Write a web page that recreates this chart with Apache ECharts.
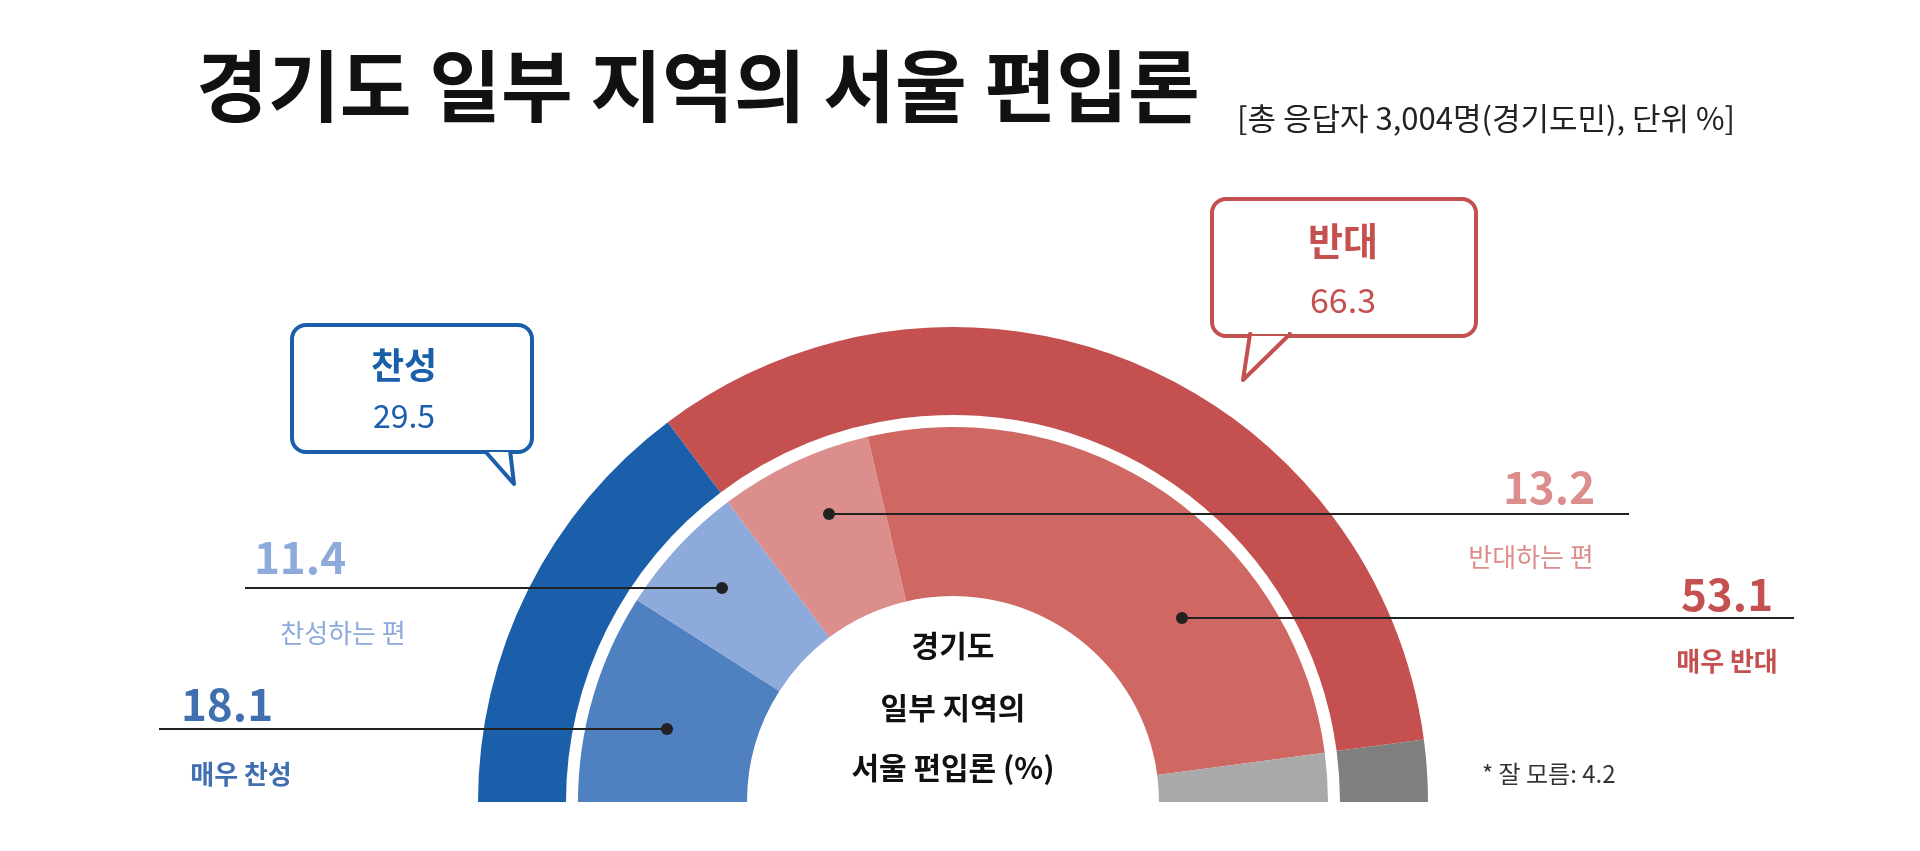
<!DOCTYPE html>
<html><head><meta charset="utf-8">
<script src="https://cdn.jsdelivr.net/npm/echarts@6/dist/echarts.min.js"></script>
<style>html,body{margin:0;background:#fff}#c{width:1920px;height:851px}</style></head>
<body><div id="c"></div>
<script>
const outerNames = ['찬성','반대','잘 모름'];
const outerValues = [29.5, 66.3, 4.2];
const innerNames = ['매우 찬성','찬성하는 편','반대하는 편','매우 반대','잘 모름'];
const innerValues = [18.1, 11.4, 13.2, 53.1, 4.2];
const outerColors = ['#1b5faa','#c4504f','#7f7f7f'];
const innerColors = ['#4f80c0','#8eaadb','#dc8e8c','#cf6763','#a9a9a9'];
const F = '"Noto Sans CJK KR", "Noto Sans", sans-serif';
const chart = echarts.init(document.getElementById('c'));
function txt(x,y,t,size,color,weight,align){return {type:'text',z:100,x:x,y:y,style:{text:t,font:`${weight||'normal'} ${size}px ${F}`,fill:color,align:align||'center',verticalAlign:'middle'}};}
function leader(x1,x2,y,dotX){return [{type:'line',z:100,shape:{x1:x1,y1:y,x2:x2,y2:y},style:{stroke:'#222',lineWidth:2}},{type:'circle',z:100,shape:{cx:dotX,cy:y,r:6},style:{fill:'#222'}}];}
const g = [
 txt(698,86,'경기도 일부 지역의 서울 편입론',78,'#111','bold'),
 txt(1237,118,'[총 응답자 3,004명(경기도민), 단위 %]',31,'#222','normal','left'),
 {type:'rect',z:90,shape:{x:292,y:325,width:240,height:127,r:14},style:{fill:'#fff',stroke:'#1b5faa',lineWidth:4}},
 {type:'polygon',z:91,shape:{points:[[484,450],[514,484],[510,450]]},style:{fill:'#fff',stroke:'#1b5faa',lineWidth:4,lineJoin:'round'}},
 {type:'rect',z:92,shape:{x:482,y:444,width:30,height:6},style:{fill:'#fff'}},
 txt(404,365,outerNames[0],36,'#1b5faa','bold'),
 txt(404,416,String(outerValues[0]),32,'#1b5faa','normal'),
 {type:'rect',z:90,shape:{x:1212,y:199,width:264,height:137,r:14},style:{fill:'#fff',stroke:'#c4504f',lineWidth:4}},
 {type:'polygon',z:91,shape:{points:[[1250,334],[1243,380],[1290,334]]},style:{fill:'#fff',stroke:'#c4504f',lineWidth:4,lineJoin:'round'}},
 {type:'rect',z:92,shape:{x:1252,y:328,width:36,height:6},style:{fill:'#fff'}},
 txt(1343,241,outerNames[1],38,'#c4504f','bold'),
 txt(1343,300,String(outerValues[1]),34,'#c4504f','normal'),
 ...leader(245,722,588,722),
 ...leader(159,667,729,667),
 ...leader(829,1629,514,829),
 ...leader(1182,1794,618,1182),
 txt(300,557,String(innerValues[1]),44,'#8eaadb','bold'),
 txt(343,633,innerNames[1],26,'#8eaadb'),
 txt(227,704,String(innerValues[0]),44,'#3f6fae','bold'),
 txt(241,774,innerNames[0],26,'#3f6fae','bold'),
 txt(1549,487,String(innerValues[2]),44,'#dc8e8c','bold'),
 txt(1531,557,innerNames[2],26,'#dc8e8c'),
 txt(1727,594,String(innerValues[3]),44,'#c4504f','bold'),
 txt(1727,661,innerNames[3],26,'#c4504f','bold'),
 txt(953,646,'경기도',30,'#111','bold'),
 txt(953,708,'일부 지역의',30,'#111','bold'),
 txt(953,768,'서울 편입론 (%)',30,'#111','bold'),
 txt(1482,774,'* '+innerNames[4]+': '+innerValues[4],24,'#333','normal','left')
];
chart.setOption({
 animation:false,
 series:[
  {type:'pie',z:1,center:[953,802],radius:[387,475],startAngle:180,endAngle:0,clockwise:true,label:{show:false},labelLine:{show:false},silent:true,
   data:outerValues.map((v,i)=>({name:outerNames[i],value:v,itemStyle:{color:outerColors[i]}}))},
  {type:'pie',z:1,center:[953,802],radius:[206,375],startAngle:180,endAngle:0,clockwise:true,label:{show:false},labelLine:{show:false},silent:true,
   data:innerValues.map((v,i)=>({name:innerNames[i],value:v,itemStyle:{color:innerColors[i]}}))}
 ],
 graphic:{elements:g}
});
</script></body></html>
